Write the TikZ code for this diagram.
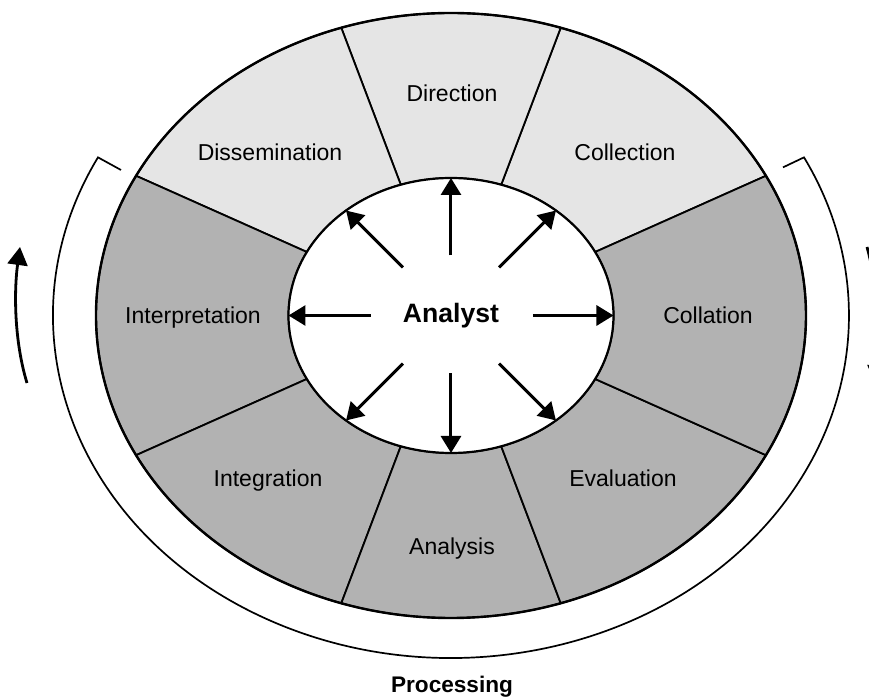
\documentclass[tikz,border=0pt]{standalone}
\usepackage{fontspec}
\setmainfont{Liberation Sans}
\usetikzlibrary{arrows.meta,shapes.geometric}
\definecolor{ringlight}{gray}{0.9}
\definecolor{ringdark}{gray}{0.7}
\begin{document}
\begin{tikzpicture}[x=0.5pt,y=0.5pt,
  lbl/.style={font=\fontsize{11.5}{13}\selectfont, text depth=0pt, inner sep=0pt},
  title/.style={lbl, font=\bfseries\fontsize{13.3}{15}\selectfont},
  spoke/.style={line width=1.5pt, -{Triangle[length=8.5pt,width=10pt]}},
  turn/.style={line width=1.4pt, -{Triangle[length=9pt,width=10pt]}}]
\useasboundingbox (-451,-384.5) rectangle (418,315.5);
% Secteurs
\foreach \a/\b/\c in {27.5/72/ringlight, 72/108/ringlight, 108/152.5/ringlight,
    152.5/207.5/ringdark, 207.5/252/ringdark, 252/288/ringdark, 288/332.5/ringdark, -27.5/27.5/ringdark}
  \filldraw[fill=\c, line width=0.9pt] (\a:355 and 302.5)
    arc[start angle=\a, end angle=\b, x radius=355, y radius=302.5]
    -- (\b:162.5 and 137.5)
    arc[start angle=\b, end angle=\a, x radius=162.5, y radius=137.5] -- cycle;
\draw[line width=1.2pt] (0,0) ellipse[x radius=355, y radius=302.5];
% Centre
\node[ellipse, draw, fill=white, line width=1.1pt, minimum width=162.5pt, minimum height=137.5pt,
  inner sep=0pt, outer sep=0pt] (hub) at (0,0) {};
\node[title] (analyst) at (0,2.2) {Analyst};
\foreach \a/\r in {0/82, 45/68, 90/60, 135/68, 180/80, 225/68, 270/58, 315/68} {
  \coordinate (tail\a) at (\a:\r);
  \draw[spoke] (tail\a) -- (hub.\a);
}
% Etapes
\node[lbl] (direction) at (1,222) {Direction};
\node[lbl] (dissemination) at (-181,163) {Dissemination};
\node[lbl] (collection) at (174,163) {Collection};
\node[lbl] (interpretation) at (-258,0.8) {Interpretation};
\node[lbl] (collation) at (257,0.8) {Collation};
\node[lbl] (integration) at (-183,-163) {Integration};
\node[lbl] (evaluation) at (172,-163) {Evaluation};
\node[lbl] (analysis) at (1,-230.5) {Analysis};
% Processing
\draw[line width=0.85pt] (-330,145.5) -- (152.5:398 and 342.5)
  arc[start angle=152.5, end angle=387.5, x radius=398, y radius=342.5] -- ++(-21,-10);
\node[title, font=\bfseries\fontsize{11.3}{13}\selectfont] (processing) at (1,-368.5) {Processing};
% Sens du cycle
\coordinate (upfrom) at (-424,-67.5);
\coordinate (upto) at (-431,68.5);
\draw[turn] (upfrom) .. controls (-437,-25) and (-437,25) .. (upto);
\coordinate (downfrom) at (416,68.5);
\coordinate (downto) at (424,-68.5);
\draw[turn] (downfrom) .. controls (428,25) and (430,-25) .. (downto);
\end{tikzpicture}
\end{document}
